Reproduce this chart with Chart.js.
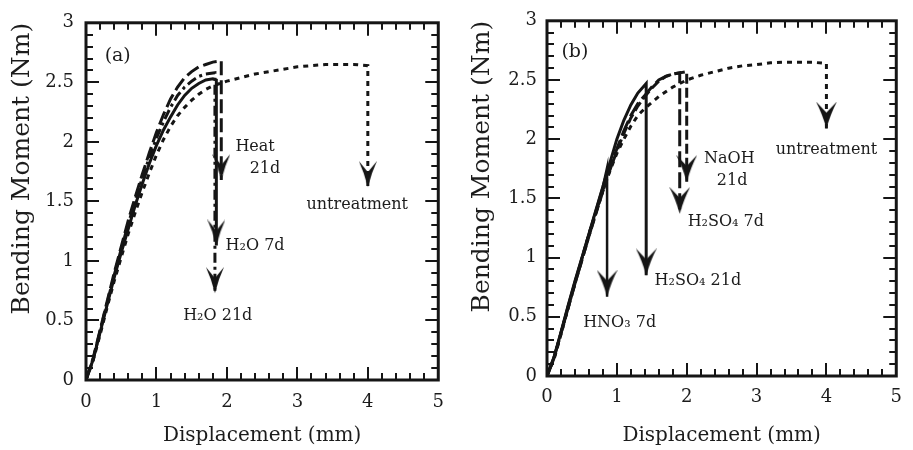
<!DOCTYPE html>
<html><head><meta charset="utf-8">
<script src="https://cdn.jsdelivr.net/npm/chart.js@4.4.0/dist/chart.umd.min.js"></script>
<style>
html,body{margin:0;padding:0;background:#fff;width:913px;height:450px;overflow:hidden}
canvas{position:absolute;top:0}
#cA{left:0}
#cB{left:456px}
</style></head><body>
<canvas id="cA" width="456" height="450"></canvas>
<canvas id="cB" width="457" height="450"></canvas>
<script>
// ---------- data : panel (a) ----------
const aUntreatX = [0,0.1,0.2,0.3,0.4,0.5,0.6,0.7,0.8,0.9,1.0,1.1,1.2,1.3,1.4,1.5,1.6,1.7,1.8,1.9,2.0,2.2,2.4,2.6,2.8,3.0,3.2,3.4,3.6,3.8,4.0,4.0];
const aUntreatY = [0,0.16,0.38,0.61,0.83,1.03,1.23,1.41,1.58,1.74,1.89,2.02,2.13,2.22,2.29,2.35,2.40,2.44,2.47,2.49,2.51,2.54,2.57,2.59,2.61,2.63,2.64,2.65,2.65,2.65,2.64,1.62];
const aH2O7X = [0,0.1,0.2,0.3,0.4,0.5,0.6,0.7,0.8,0.9,1.0,1.1,1.2,1.3,1.4,1.5,1.6,1.7,1.8,1.85,1.85];
const aH2O7Y = [0,0.17,0.40,0.63,0.86,1.07,1.27,1.47,1.65,1.82,1.97,2.10,2.21,2.31,2.39,2.45,2.49,2.52,2.53,2.52,1.13];
const aH2O21X = [0,0.1,0.2,0.3,0.4,0.5,0.6,0.7,0.8,0.9,1.0,1.1,1.2,1.3,1.4,1.5,1.6,1.7,1.83,1.83];
const aH2O21Y = [0,0.17,0.41,0.65,0.88,1.10,1.31,1.51,1.70,1.87,2.03,2.17,2.29,2.39,2.46,2.51,2.55,2.57,2.58,0.73];
const aHeatX = [0,0.1,0.2,0.3,0.4,0.5,0.6,0.7,0.8,0.9,1.0,1.1,1.2,1.3,1.4,1.5,1.6,1.7,1.8,1.92,1.92];
const aHeatY = [0,0.18,0.42,0.66,0.90,1.12,1.34,1.54,1.73,1.91,2.08,2.23,2.36,2.46,2.54,2.59,2.63,2.65,2.67,2.68,1.68];

// ---------- data : panel (b) ----------
const bUntreatX = [0,0.1,0.2,0.3,0.4,0.5,0.6,0.7,0.8,0.9,1.0,1.1,1.2,1.3,1.4,1.5,1.6,1.7,1.8,1.9,2.0,2.2,2.4,2.6,2.8,3.0,3.2,3.4,3.6,3.8,4.0,4.0];
const bUntreatY = [0,0.14,0.35,0.57,0.78,0.99,1.20,1.38,1.56,1.73,1.88,2.00,2.11,2.20,2.26,2.31,2.36,2.40,2.44,2.47,2.50,2.54,2.57,2.60,2.62,2.63,2.645,2.65,2.65,2.65,2.64,2.09];
const bH2SO4_21X = [0,0.1,0.2,0.3,0.4,0.5,0.6,0.7,0.8,0.9,1.0,1.1,1.2,1.3,1.42,1.42];
const bH2SO4_21Y = [0,0.16,0.37,0.59,0.80,1.00,1.20,1.40,1.60,1.80,2.00,2.16,2.29,2.39,2.47,0.85];
const bH2SO4_7X = [0,0.1,0.2,0.3,0.4,0.5,0.6,0.7,0.8,0.9,1.0,1.1,1.2,1.3,1.4,1.5,1.6,1.7,1.8,1.9,1.9];
const bH2SO4_7Y = [0,0.15,0.36,0.57,0.78,0.98,1.18,1.38,1.57,1.75,1.92,2.07,2.20,2.30,2.37,2.44,2.50,2.53,2.55,2.56,1.37];
const bNaOHX = [0,0.1,0.2,0.3,0.4,0.5,0.6,0.7,0.8,0.9,1.0,1.1,1.2,1.3,1.4,1.5,1.6,1.7,1.8,1.9,2.0,2.0];
const bNaOHY = [0,0.15,0.36,0.57,0.78,0.98,1.18,1.37,1.56,1.74,1.90,2.05,2.18,2.28,2.36,2.43,2.49,2.53,2.55,2.56,2.57,1.64];
const bHNO3X = [0,0.1,0.2,0.3,0.4,0.5,0.6,0.7,0.8,0.86,0.86];
const bHNO3Y = [0,0.16,0.37,0.59,0.80,1.00,1.20,1.40,1.60,1.76,0.67];

// ---------- ticks / titles / labels ----------
const xTickLabels = ['0','1','2','3','4','5'];
const yTickLabels = ['0','0.5','1','1.5','2','2.5','3'];
const xTitle = 'Displacement (mm)';
const yTitle = 'Bending Moment (Nm)';
const aLabels = ['(a)','Heat','21d','untreatment','H\u2082O 7d','H\u2082O 21d'];
const aLabelX = [0.45,2.40,2.54,3.85,2.40,1.87];
const aLabelY = [2.72,1.96,1.77,1.47,1.13,0.54];
const bLabels = ['(b)','NaOH','21d','H\u2082SO\u2084 7d','untreatment','H\u2082SO\u2084 21d','HNO\u2083 7d'];
const bLabelX = [0.40,2.61,2.65,2.56,4.0,2.16,1.04];
const bLabelY = [2.74,1.83,1.65,1.30,1.91,0.80,0.45];

const FONT = "'DejaVu Serif', 'Liberation Serif', serif";
const INK = '#151515';
const TXT = '#1c1c1c';

function pts(xs, ys){ return xs.map((x,i)=>({x:x, y:ys[i]})); }

function makeArrow(w, h, notch){
  const c = document.createElement('canvas');
  c.width = w; c.height = 2*h;
  const g = c.getContext('2d');
  g.fillStyle = INK;
  g.beginPath();
  g.moveTo(w/2, h);       // tip at centre of image
  g.quadraticCurveTo(w*0.3, h*0.45, 0, 0);
  g.lineTo(w/2, notch);
  g.lineTo(w, 0);
  g.quadraticCurveTo(w*0.7, h*0.45, w/2, h);
  g.closePath();
  g.fill();
  return c;
}
const arrowA = makeArrow(18, 26, 11);
const arrowB = makeArrow(21, 27, 11);

function ds(label, xs, ys, width, dash, arrow){
  const last = xs.length - 1;
  return {
    label: label, data: pts(xs, ys), showLine: true,
    borderColor: INK, backgroundColor: INK, borderWidth: width,
    borderDash: dash, borderCapStyle: 'butt', borderJoinStyle: 'miter',
    tension: 0, fill: false,
    pointStyle: arrow,
    pointRadius: (c) => (c.dataIndex === last ? 12 : 0),
    pointHoverRadius: 0
  };
}

const frameTicks = {
  id: 'frameTicks',
  afterDatasetsDraw(chart){
    const {ctx, chartArea, scales} = chart;
    const {left, right, top, bottom} = chartArea;
    const x = scales.x, y = scales.y;
    ctx.save();
    ctx.strokeStyle = INK;
    ctx.lineWidth = 2;
    ctx.beginPath();
    for (let i = 0; i <= 25; i++){
      const px = Math.round(x.getPixelForValue(i*0.2));
      const L = (i % 5 === 0) ? 13 : 7;
      ctx.moveTo(px, bottom); ctx.lineTo(px, bottom - L);
      ctx.moveTo(px, top); ctx.lineTo(px, top + L);
    }
    for (let i = 0; i <= 30; i++){
      const py = Math.round(y.getPixelForValue(i*0.1));
      const L = (i % 5 === 0) ? 13 : 7;
      ctx.moveTo(left, py); ctx.lineTo(left + L, py);
      ctx.moveTo(right, py); ctx.lineTo(right - L, py);
    }
    ctx.stroke();
    ctx.lineWidth = 3;
    ctx.strokeRect(left, top, right - left, bottom - top);
    ctx.restore();
  }
};

function annotPlugin(texts, xs, ys){
  return {
    id: 'annot',
    afterDatasetsDraw(chart){
      const {ctx, scales} = chart;
      ctx.save();
      ctx.fillStyle = TXT;
      ctx.textAlign = 'center';
      ctx.textBaseline = 'middle';
      texts.forEach((t, i) => {
        ctx.font = (t.charAt(0) === '(' ? 19 : 16) + 'px ' + FONT;
        ctx.fillText(t, scales.x.getPixelForValue(xs[i]), scales.y.getPixelForValue(ys[i]));
      });
      ctx.restore();
    }
  };
}

function makeChart(id, datasets, geo, annot){
  return new Chart(document.getElementById(id), {
    type: 'scatter',
    data: {datasets: datasets},
    options: {
      responsive: false, animation: false, events: [],
      layout: {padding: {left: 0, right: geo.padR, top: geo.padT, bottom: 0}},
      plugins: {legend: {display: false}, tooltip: {enabled: false}},
      scales: {
        x: {
          type: 'linear', min: 0, max: 5,
          grid: {display: false, drawTicks: false}, border: {display: false},
          ticks: {stepSize: 1, padding: geo.xPad, maxRotation: 0, autoSkip: false,
                  font: {family: FONT, size: 18}, color: TXT,
                  callback: (v, i) => xTickLabels[i]},
          title: {display: true, text: xTitle, color: TXT,
                  font: {family: FONT, size: 20}, padding: {top: 0, bottom: 2}},
          afterFit(s){ s.height = geo.xH; }
        },
        y: {
          type: 'linear', min: 0, max: 3,
          grid: {display: false, drawTicks: false}, border: {display: false},
          ticks: {stepSize: 0.5, padding: geo.yPad, autoSkip: false,
                  font: {family: FONT, size: 18}, color: TXT,
                  callback: (v, i) => yTickLabels[i]},
          title: {display: true, text: yTitle, align: 'end', color: TXT,
                  font: {family: FONT, size: 25}, padding: {top: geo.yTitlePad, bottom: 0}},
          afterFit(s){ s.width = geo.yW; }
        }
      }
    },
    plugins: [frameTicks, annot]
  });
}

makeChart('cA', [
  ds('untreatment', aUntreatX, aUntreatY, 3, [5,5], arrowA),
  ds('Heat 21d', aHeatX, aHeatY, 3, [14,5], arrowA),
  ds('H2O 21d', aH2O21X, aH2O21Y, 3, [10,4,3,4], arrowA),
  ds('H2O 7d', aH2O7X, aH2O7Y, 3, [], arrowA)
], {padR: 12, padT: 22, xH: 70, yW: 86, xPad: 12, yPad: 12, yTitlePad: 7},
   annotPlugin(aLabels, aLabelX, aLabelY));

makeChart('cB', [
  ds('untreatment', bUntreatX, bUntreatY, 3, [5,5], arrowB),
  ds('NaOH 21d', bNaOHX, bNaOHY, 3, [10,4], arrowB),
  ds('H2SO4 7d', bH2SO4_7X, bH2SO4_7Y, 3, [16,5], arrowB),
  ds('H2SO4 21d', bH2SO4_21X, bH2SO4_21Y, 3, [], arrowB),
  ds('HNO3 7d', bHNO3X, bHNO3Y, 2.5, [], arrowB)
], {padR: 9, padT: 17, xH: 74, yW: 91, xPad: 11, yPad: 10, yTitlePad: 11},
   annotPlugin(bLabels, bLabelX, bLabelY));
</script>
</body></html>
